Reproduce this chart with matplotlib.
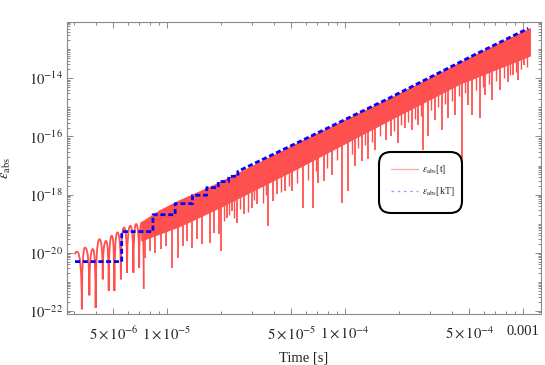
import numpy as np
import matplotlib.pyplot as plt
from matplotlib.path import Path
from matplotlib.patches import PathPatch, FancyBboxPatch
from matplotlib.lines import Line2D
from matplotlib.transforms import IdentityTransform
from matplotlib.ticker import FixedLocator, NullFormatter

plt.rcParams['font.family'] = ['Liberation Serif', 'DejaVu Serif']
plt.rcParams['mathtext.fontset'] = 'stix'

# --- eps_abs[t]: first oscillations, alternating maxima / minima (log10 of eps)
arch_t = [3.04e-6, 3.12e-6, 3.32e-6, 3.46e-6, 3.66e-6, 3.83e-6, 3.97e-6, 4.17e-6,
          4.35e-6, 4.54e-6, 4.70e-6, 4.89e-6, 5.06e-6, 5.26e-6, 5.50e-6, 5.73e-6,
          5.96e-6, 6.22e-6, 6.47e-6, 6.70e-6, 6.97e-6, 7.21e-6, 7.40e-6]
arch_log_eps = [-20.05, -19.96, -21.94, -19.82, -21.46, -19.87, -21.89, -19.53,
                -20.91, -19.59, -21.31, -19.41, -21.31, -19.30, -20.91, -19.13,
                -20.68, -19.07, -20.68, -19.01, -20.51, -18.96, -21.24]

# --- dense part: upper and lower edge of the filled band
band_top_t = [7.21e-6, 9.14e-6, 1.18e-5, 1.99e-5, 5.96e-5, 1.746e-4, 5.37e-4, 1.10e-3]
band_top_log = [-18.96, -18.55, -18.21, -17.59, -16.12, -14.74, -13.22, -12.30]
band_bot_t = [7.21e-6, 1.18e-5, 1.99e-5, 5.58e-5, 1.746e-4, 4.42e-4, 1.10e-3]
band_bot_log = [-19.59, -19.10, -18.45, -17.07, -15.48, -14.21, -13.24]

# --- deep downward spikes below the band
spike_t = [7.52e-6, 8.02e-6, 8.57e-6, 9.25e-6, 9.87e-6, 1.066e-5, 1.153e-5, 1.230e-5,
           1.295e-5, 1.381e-5, 1.475e-5, 1.573e-5, 1.745e-5, 1.837e-5, 1.96e-5, 2.00e-5,
           2.17e-5, 2.31e-5, 2.46e-5, 2.69e-5, 2.99e-5, 3.19e-5, 3.71e-5, 3.95e-5,
           4.13e-5, 4.60e-5, 5.06e-5, 5.83e-5, 6.61e-5, 7.05e-5, 7.62e-5, 8.45e-5,
           9.62e-5, 1.04e-4, 1.14e-4, 1.25e-4, 1.35e-4, 1.47e-4, 1.70e-4, 1.81e-4,
           1.98e-4, 2.17e-4, 2.38e-4, 2.57e-4, 2.74e-4, 2.92e-4, 3.20e-4, 3.51e-4,
           3.79e-4, 4.15e-4, 4.54e-4, 4.91e-4, 5.17e-4, 5.73e-4, 6.12e-4, 6.70e-4,
           7.43e-4, 8.24e-4, 8.79e-4, 9.38e-4, 1.014e-3]
spike_log_eps = [-20.17, -19.93, -20.00, -19.86, -19.76, -20.52, -20.17, -19.76,
                 -19.59, -19.83, -19.52, -19.69, -19.66, -19.31, -19.34, -19.93,
                 -18.79, -18.55, -18.97, -18.66, -18.45, -18.31, -19.07, -18.21,
                 -17.97, -17.86, -17.86, -18.45, -18.45, -17.59, -17.52, -17.34,
                 -18.28, -17.86, -17.00, -16.83, -16.76, -16.48, -16.14, -15.97,
                 -16.21, -15.72, -15.79, -15.62, -16.48, -15.97, -15.45, -15.79,
                 -15.38, -15.28, -16.93, -14.93, -15.28, -15.38, -14.59, -14.76,
                 -14.41, -14.14, -13.90, -14.07, -13.55]

# --- shallow dips that make the lower edge ragged
dip_t = [2.08e-5, 2.24e-5, 2.38e-5, 2.58e-5, 2.84e-5, 3.08e-5, 3.45e-5, 3.60e-5,
         4.35e-5, 4.83e-5, 5.40e-5, 6.20e-5, 6.85e-5, 7.90e-5, 9.00e-5, 1.09e-4,
         1.19e-4, 1.30e-4, 1.41e-4, 1.58e-4, 1.89e-4, 2.07e-4, 2.27e-4, 2.48e-4,
         2.66e-4, 3.06e-4, 3.35e-4, 3.65e-4, 3.97e-4, 4.35e-4, 4.72e-4, 5.45e-4,
         5.95e-4, 6.40e-4, 7.05e-4, 7.80e-4, 8.50e-4, 9.10e-4, 9.70e-4, 1.05e-3]
dip_log_eps = [-18.9, -18.7, -18.8, -18.5, -18.6, -18.2, -18.3, -18.0,
               -17.9, -17.7, -17.6, -17.5, -17.2, -17.1, -16.8, -16.6,
               -16.4, -16.3, -16.2, -16.0, -15.8, -15.6, -15.5, -15.4,
               -15.3, -15.1, -15.0, -14.9, -14.8, -14.6, -14.5, -14.4,
               -14.3, -14.2, -14.1, -14.0, -13.9, -13.8, -13.7, -13.6]

# --- eps_abs[kT]: step levels for the first intervals, then the dotted line
step_t = [3.04e-6, 5.56e-6, 8.33e-6, 1.11e-5, 1.39e-5, 1.67e-5, 1.94e-5, 2.22e-5, 2.50e-5]
step_log_eps = [-20.30, -19.27, -18.69, -18.31, -18.02, -17.76, -17.55, -17.37]
tail_t = [2.50e-5, 6.0e-5, 1.75e-4, 5.4e-4, 1.07e-3]
tail_log_eps = [-17.20, -16.08, -14.70, -13.18, -12.29]

xtick_vals = [5e-6, 1e-5, 5e-5, 1e-4, 5e-4, 1e-3]
xtick_labels = [r'$5\times10^{-6}$', r'$1\times10^{-5}$', r'$5\times10^{-5}$',
                r'$1\times10^{-4}$', r'$5\times10^{-4}$', '0.001']
ytick_vals = [1e-22, 1e-20, 1e-18, 1e-16, 1e-14]
ytick_labels = [r'$10^{-22}$', r'$10^{-20}$', r'$10^{-18}$', r'$10^{-16}$', r'$10^{-14}$']

red = '#ff5050'
blue = '#0000ff'
frame = '#8a8a8a'
txt = '#222222'

fig = plt.figure(figsize=(5.45, 3.65), dpi=100)
ax = fig.add_axes([67/545, 51/365, 474/545, 292/365])
ax.set_xscale('log')
ax.set_yscale('log')

# arches: rounded tops, sharp dips
verts = [(arch_t[0], 10**arch_log_eps[0])]
codes = [Path.MOVETO]
for i in range(1, len(arch_t)):
    t0, e0 = arch_t[i-1], arch_log_eps[i-1]
    t1, e1 = arch_t[i], arch_log_eps[i]
    ctrl = (t0, 10**e1) if e0 < e1 else (t1, 10**e0)
    verts += [ctrl, (t1, 10**e1)]
    codes += [Path.CURVE3, Path.CURVE3]
ax.add_patch(PathPatch(Path(verts, codes), fill=False, ec=red, lw=1.3, zorder=2))

# dense band
poly_t = np.r_[band_top_t, band_bot_t[::-1]]
poly_e = 10**np.r_[band_top_log, band_bot_log[::-1]]
ax.fill(poly_t, poly_e, fc=red, ec=red, lw=0.8, zorder=2)

# spikes and shallow dips
bot_at = lambda t: np.interp(np.log10(t), np.log10(band_bot_t), band_bot_log) + 0.3
ax.vlines(spike_t, 10**np.array(spike_log_eps), 10**bot_at(spike_t), color=red, lw=1.3, zorder=2)
ax.vlines(dip_t, 10**np.array(dip_log_eps), 10**bot_at(dip_t), color=red, lw=1.0, zorder=2)

# step function
bx, by = [], []
for k in range(len(step_log_eps)):
    bx += [step_t[k], step_t[k+1]]
    by += [10**step_log_eps[k], 10**step_log_eps[k]]
bx += tail_t
by += list(10**np.array(tail_log_eps))
ax.plot(bx, by, color=blue, lw=2.0, linestyle=(0, (1.8, 1.0)), zorder=3,
        solid_capstyle='butt', dash_capstyle='butt')

ax.set_xlim(2.74e-6, 1.262e-3)
ax.set_ylim(10**-22.10, 10**-12.07)

ax.xaxis.set_major_locator(FixedLocator(xtick_vals))
ax.set_xticklabels(xtick_labels)
xminor = [m*10.0**e for e in range(-6, -2) for m in range(1, 10)]
ax.xaxis.set_minor_locator(FixedLocator([v for v in xminor if min(abs(v/x - 1) for x in xtick_vals) > 1e-6]))
ax.xaxis.set_minor_formatter(NullFormatter())

ax.yaxis.set_major_locator(FixedLocator(ytick_vals))
ax.set_yticklabels(ytick_labels)
yminor = [m*10.0**e for e in range(-23, -11) for m in range(1, 10)]
ax.yaxis.set_minor_locator(FixedLocator([v for v in yminor if min(abs(v/y - 1) for y in ytick_vals) > 1e-6]))
ax.yaxis.set_minor_formatter(NullFormatter())

ax.tick_params(which='both', direction='in', top=True, right=True, color=frame,
               labelcolor=txt, labelsize=10.5, width=0.7)
ax.tick_params(which='major', length=4)
ax.tick_params(which='minor', length=2)
ax.tick_params(axis='x', which='major', pad=8)
ax.tick_params(axis='y', which='major', pad=3)
for s in ax.spines.values():
    s.set_color(frame)
    s.set_linewidth(0.8)

ax.set_xlabel('Time [s]', fontsize=10.5, color=txt)
ax.xaxis.set_label_coords(0.5, -0.13)
ax.set_ylabel(r'$\epsilon_{\rm abs}$', fontsize=10.5, color=txt)
ax.yaxis.set_label_coords(-0.114, 0.5)

# legend box (pixel coordinates)
ident = IdentityTransform()
box = FancyBboxPatch((379, 152), 83, 61, boxstyle='round,pad=0,rounding_size=12',
                     fc='white', ec='black', lw=1.5, transform=ident, zorder=5)
fig.add_artist(box)
fig.add_artist(Line2D([391, 418], [196, 196], color='#ffa8a8', lw=0.9, transform=ident, zorder=6))
fig.add_artist(Line2D([391, 418], [174, 174], color='#9a9aff', lw=0.9,
                      linestyle=(0, (2, 3)), transform=ident, zorder=6))
fig.text(422, 196, r'$\epsilon_{\rm abs}$[t]', fontsize=7, color=txt, va='center',
         transform=ident, zorder=6)
fig.text(422, 174, r'$\epsilon_{\rm abs}$[kT]', fontsize=7, color=txt, va='center',
         transform=ident, zorder=6)

fig.savefig('out.png', dpi=100)
